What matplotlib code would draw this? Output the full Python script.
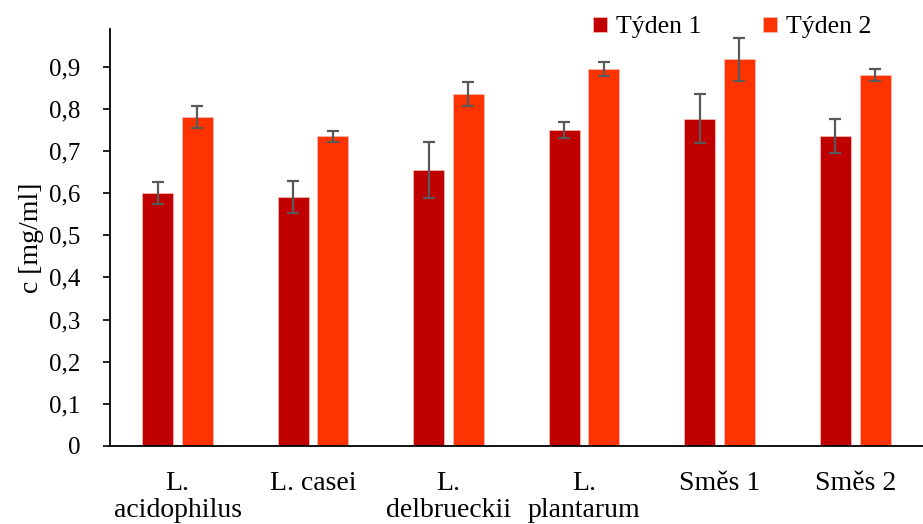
import matplotlib.pyplot as plt
import numpy as np

plt.rcParams['font.family'] = ['Liberation Serif', 'DejaVu Serif']

categories = ['L.\nacidophilus', 'L. casei', 'L.\ndelbrueckii', 'L.\nplantarum', 'Směs 1', 'Směs 2']
tyden1 = [0.600, 0.590, 0.655, 0.750, 0.777, 0.735]
tyden1_err = [0.026, 0.038, 0.066, 0.018, 0.058, 0.040]
tyden2 = [0.780, 0.735, 0.835, 0.895, 0.918, 0.880]
tyden2_err = [0.026, 0.013, 0.028, 0.017, 0.051, 0.015]

c1 = '#C00000'
c2 = '#FF3300'

fig = plt.figure(figsize=(9.23, 5.24), dpi=100)
ax = fig.add_axes([0.119, 0.149, 0.881, 0.796])

x = np.arange(len(categories))
w = 0.229
off = 0.146
ek = dict(ecolor='#595959', elinewidth=1.6, capsize=4.5, capthick=1.6)
ax.bar(x - off, tyden1, w, color=c1, edgecolor='#f4b6b0', linewidth=0.6,
       yerr=tyden1_err, error_kw=ek, label='Týden 1')
ax.bar(x + off, tyden2, w, color=c2, edgecolor='#f4b6b0', linewidth=0.6,
       yerr=tyden2_err, error_kw=ek, label='Týden 2')

ax.set_xlim(-0.5, len(categories) - 0.5)
ax.set_ylim(0, 0.99)
ax.set_yticks(np.arange(0, 0.91, 0.1))
ax.set_yticklabels(['0'] + [f'0,{i}' for i in range(1, 10)], fontsize=18)
ax.set_xticks(x)
ax.set_xticklabels(categories, fontsize=20, linespacing=1.12)
ax.tick_params(axis='x', length=0, pad=18)
ax.tick_params(axis='y', length=5, width=1.2, pad=16)
ax.set_ylabel('c [mg/ml]', fontsize=20, labelpad=4)

for s in ['top', 'right']:
    ax.spines[s].set_visible(False)
ax.spines['left'].set_linewidth(1.3)
ax.spines['bottom'].set_linewidth(1.3)

ax.legend(loc='upper right', bbox_to_anchor=(0.965, 1.085), ncol=2, frameon=False,
          fontsize=18.5, handlelength=0.55, handleheight=0.55, handletextpad=0.35,
          columnspacing=2.4)

fig.savefig('out.png', dpi=100)
